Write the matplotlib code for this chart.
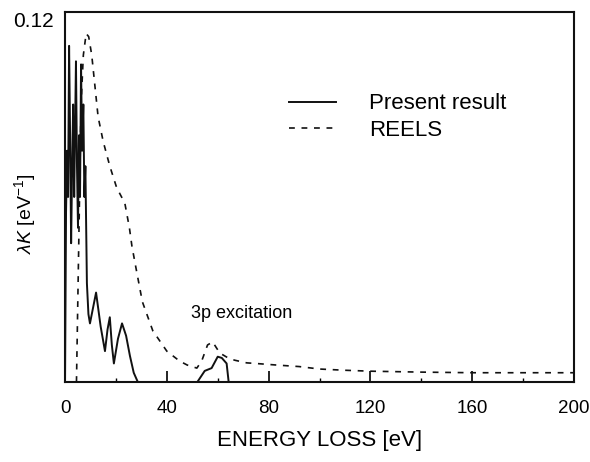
import matplotlib
matplotlib.use("Agg")
import matplotlib.pyplot as plt
from matplotlib.ticker import MultipleLocator

plt.rcParams['font.family'] = ['Liberation Sans', 'DejaVu Sans']
plt.rcParams['mathtext.fontset'] = 'custom'
plt.rcParams['mathtext.rm'] = 'Liberation Sans'
plt.rcParams['mathtext.it'] = 'Liberation Sans:italic'

# Present result (solid)
present_e = [0, 0.4, 0.8, 1.2, 1.6, 2.0, 2.4, 2.8, 3.2, 3.6, 4.0, 4.3, 4.7, 5.1, 5.5,
             5.9, 6.3, 6.7, 7.2, 7.6, 8.0, 8.6, 9.2, 9.8, 11.0, 12.2, 14.0, 15.7,
             16.7, 17.6, 18.4, 19.2, 20.8, 22.4, 24.0, 25.5, 27.0, 28.6,
             52.0, 54.9, 57.6, 60.0, 61.6, 63.5, 64.3]
present_k = [0, 0.055, 0.075, 0.06, 0.109, 0.08, 0.045, 0.07, 0.09, 0.06, 0.085, 0.104,
             0.07, 0.05, 0.08, 0.06, 0.103, 0.075, 0.09, 0.06, 0.07, 0.032, 0.022, 0.019,
             0.024, 0.029, 0.018, 0.010, 0.017, 0.021, 0.012, 0.006, 0.014, 0.019, 0.015,
             0.0085, 0.003, 0.0,
             0.0, 0.0036, 0.0045, 0.0082, 0.0078, 0.006, 0.0]

# REELS (dashed)
reels_e = [4.5, 5.5, 6.3, 7.2, 8.3, 9.3, 10.5, 11.5, 13.0, 15.0, 17.6, 20.3, 23.5, 25.3,
           26.3, 28.1, 30.4, 34.5, 40.0, 45.0, 48.0, 51.8, 53.7, 56.0, 58.0, 60.8, 64.7,
           67.0, 71.4, 75.0, 83.0, 92.0, 100.0, 110.0, 120.0, 140.0, 160.0, 180.0, 200.0]
reels_k = [0, 0.05, 0.09, 0.106, 0.113, 0.112, 0.106, 0.098, 0.086, 0.078, 0.070, 0.063,
           0.058, 0.050, 0.044, 0.036, 0.026, 0.0166, 0.010, 0.0068, 0.0055, 0.0045,
           0.0068, 0.012, 0.013, 0.0094, 0.0075, 0.007, 0.0062, 0.006, 0.0055, 0.005,
           0.0042, 0.0038, 0.0035, 0.0032, 0.003, 0.003, 0.003]

x_ticks = [0, 40, 80, 120, 160, 200]
y_ticks = [0.12]

fig = plt.figure(figsize=(5.9, 4.62), dpi=100)
ax = fig.add_axes([0.1102, 0.1732, 0.8627, 0.8009])

l1, = ax.plot(present_e, present_k, color='#111111', lw=1.4, label='Present result')
l2, = ax.plot(reels_e, reels_k, color='#111111', lw=1.2, ls=(0, (3.5, 4)), label='REELS')

ax.set_xlim(0, 200)
ax.set_ylim(0, 0.12)
ax.set_xticks(x_ticks)
ax.set_xticklabels([str(t) for t in x_ticks])
ax.xaxis.set_minor_locator(MultipleLocator(20))
ax.set_yticks(y_ticks)
ax.set_yticklabels(['0.12'])
for lab in ax.get_yticklabels():
    lab.set_va('top')
ax.tick_params(axis='x', which='major', direction='in', length=8, width=1.2,
               labelsize=13.5, pad=13)
ax.tick_params(axis='x', which='minor', direction='in', length=3, width=1.0)
ax.tick_params(axis='y', length=0, labelsize=15, pad=8)
for s in ax.spines.values():
    s.set_linewidth(1.5)
    s.set_color('#111111')

ax.set_xlabel('ENERGY LOSS [eV]', fontsize=16, labelpad=9)
fig.text(25 / 590, 1 - 214 / 462, r'$\lambda K$ [eV$^{-1}$]', rotation=90,
         fontsize=14, ha='center', va='center')

ax.text(69.5, 0.0222, '3p excitation', fontsize=13, ha='center', va='center')

ax.legend(handles=[l1, l2], loc='upper left', bbox_to_anchor=(0.44, 0.78),
          frameon=False, fontsize=16, handlelength=2.1, handletextpad=1.5,
          labelspacing=0.25, borderpad=0, borderaxespad=0)

fig.savefig('out.png', dpi=100)
